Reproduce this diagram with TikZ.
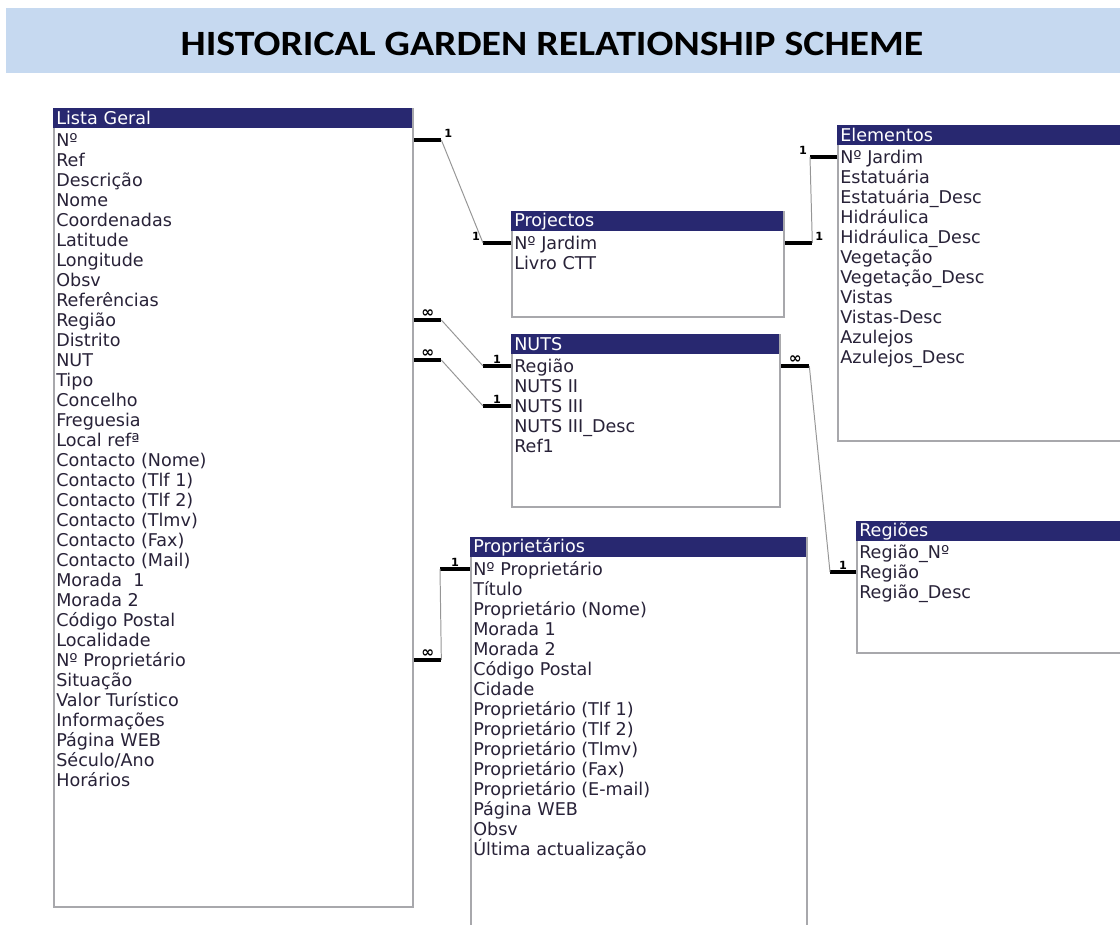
\documentclass[tikz,border=0pt]{standalone}
\usepackage{fontspec}
\setmainfont{DejaVu Sans}
\newfontfamily\titlefont{Carlito}
\usetikzlibrary{calc}

\definecolor{bandblue}{RGB}{198,217,240}
\definecolor{hdrnavy}{RGB}{40,40,112}
\definecolor{fldink}{RGB}{40,34,56}
\definecolor{boxgray}{RGB}{168,168,172}
\definecolor{linkgray}{RGB}{150,150,150}

\tikzset{
  tbl/.style={draw=boxgray, line width=1.6pt, fill=white, rectangle, anchor=north west, inner sep=0pt},
  hdr/.style={fill=hdrnavy, text=white, anchor=north west, align=left, inner xsep=0.075cm, inner ysep=0pt,
    minimum height=0.5cm, font=\fontsize{12.5}{13}\selectfont},
  fld/.style={anchor=west, inner sep=0pt, text=fldink, text height=11.8pt, text depth=2.5pt,
    font=\fontsize{12.5}{13}\selectfont},
  stub/.style={line width=2.2pt, black},
  link/.style={linkgray, line width=0.7pt},
  card/.style={inner sep=1pt, font=\fontsize{8}{8}\selectfont\bfseries},
  many/.style={inner sep=0.5pt, font=\fontsize{11}{11}\selectfont\bfseries}
}

\begin{document}
\begin{tikzpicture}[x=0.025cm, y=-0.025cm]
  \useasboundingbox (0,0) rectangle (1120,925);
  \clip (0,0) rectangle (1120,925);

  % title band
  \node (band) [fill=bandblue, anchor=north west, minimum width=27.9cm, minimum height=1.625cm, inner sep=0pt] at (6,8) {};
  \node (title) at (552,44) {\titlefont\bfseries\fontsize{25.3}{26}\selectfont\scalebox{1.12}[1]{HISTORICAL GARDEN RELATIONSHIP SCHEME}};

  % Lista Geral
  \node (lista) [tbl, minimum width=8.975cm, minimum height=19.95cm] at (53,108) {};
  \node (lista-h) [hdr, minimum width=8.975cm, text width=8.825cm] at (lista.north west) {Lista Geral};
  \foreach \f [count=\i] in {Nº, Ref, Descrição, Nome, Coordenadas, Latitude, Longitude, Obsv,
      Referências, Região, Distrito, NUT, Tipo, Concelho, Freguesia, Local refª,
      Contacto (Nome), Contacto (Tlf 1), Contacto (Tlf 2), Contacto (Tlmv), Contacto (Fax),
      Contacto (Mail), Morada~ 1, Morada 2, Código Postal, Localidade, Nº Proprietário,
      Situação, Valor Turístico, Informações, Página WEB, {Século/Ano}, Horários}
    \node (lista-\i) [fld] at (56,{140+20*(\i-1)}) {\f};

  % Projectos
  \node (proj) [tbl, minimum width=6.8cm, minimum height=2.625cm] at (511,211) {};
  \node (proj-h) [hdr, minimum width=6.8cm, text width=6.65cm] at (proj.north west) {Projectos};
  \foreach \f [count=\i] in {Nº Jardim, Livro CTT}
    \node (proj-\i) [fld] at (514,{243+20*(\i-1)}) {\f};

  % NUTS
  \node (nuts) [tbl, minimum width=6.7cm, minimum height=4.3cm] at (511,334) {};
  \node (nuts-h) [hdr, minimum width=6.7cm, text width=6.55cm] at (nuts.north west) {NUTS};
  \foreach \f [count=\i] in {Região, NUTS II, NUTS III, NUTS III\_Desc, Ref1}
    \node (nuts-\i) [fld] at (514,{366+20*(\i-1)}) {\f};

  % Elementos
  \node (elem) [tbl, minimum width=9.075cm, minimum height=7.875cm] at (837,125) {};
  \node (elem-h) [hdr, minimum width=9.075cm, text width=8.925cm] at (elem.north west) {Elementos};
  \foreach \f [count=\i] in {Nº Jardim, Estatuária, Estatuária\_Desc, Hidráulica, Hidráulica\_Desc,
      Vegetação, Vegetação\_Desc, Vistas, Vistas-Desc, Azulejos, Azulejos\_Desc}
    \node (elem-\i) [fld] at (840,{157+20*(\i-1)}) {\f};

  % Regiões
  \node (regi) [tbl, minimum width=8.6cm, minimum height=3.275cm] at (856,521) {};
  \node (regi-h) [hdr, minimum width=8.6cm, text width=8.45cm] at (regi.north west) {Regiões};
  \foreach \f [count=\i] in {Região\_Nº, Região, Região\_Desc}
    \node (regi-\i) [fld] at (859,{552+20*(\i-1)}) {\f};

  % Proprietários
  \node (prop) [tbl, minimum width=8.4cm, minimum height=10.325cm] at (470,537) {};
  \node (prop-h) [hdr, minimum width=8.4cm, text width=8.25cm] at (prop.north west) {Proprietários};
  \foreach \f [count=\i] in {Nº Proprietário, Título, Proprietário (Nome), Morada 1, Morada 2,
      Código Postal, Cidade, Proprietário (Tlf 1), Proprietário (Tlf 2), Proprietário (Tlmv),
      Proprietário (Fax), Proprietário (E-mail), Página WEB, Obsv, Última actualização}
    \node (prop-\i) [fld] at (473,{569+20*(\i-1)}) {\f};

  % relationships
  \draw[stub] (lista.east |- lista-1) -- ++(27,0) coordinate (lp1) node[card, above right] {1};
  \draw[stub] (proj.west |- proj-1) -- ++(-28,0) coordinate (lp2) node[card, above left] {1};
  \draw[link] (lp1) -- (lp2);

  \draw[stub] (proj.east |- proj-1) -- ++(27,0) coordinate (pe1) node[card, above right] {1};
  \draw[stub] (elem.west |- elem-1) -- ++(-27,0) coordinate (pe2) node[card, above left] {1};
  \draw[link] (pe1) -- (pe2);

  \draw[stub] (lista.east |- lista-10) -- ++(27,0) coordinate (ln1) node[many, midway, above] {∞};
  \draw[stub] (nuts.west |- nuts-1) -- ++(-28,0) coordinate (ln2) node[card, midway, above] {1};
  \draw[link] (ln1) -- (ln2);

  \draw[stub] (lista.east |- lista-12) -- ++(27,0) coordinate (lt1) node[many, midway, above] {∞};
  \draw[stub] (nuts.west |- nuts-3) -- ++(-28,0) coordinate (lt2) node[card, midway, above] {1};
  \draw[link] (lt1) -- (lt2);

  \draw[stub] (nuts.east |- nuts-1) -- ++(28,0) coordinate (nr1) node[many, midway, above] {∞};
  \draw[stub] (regi.west |- regi-2) -- ++(-26,0) coordinate (nr2) node[card, midway, above] {1};
  \draw[link] (nr1) -- (nr2);

  \draw[stub] (lista.east |- lista-27) -- ++(27,0) coordinate (lo1) node[many, midway, above] {∞};
  \draw[stub] (prop.west |- prop-1) -- ++(-30,0) coordinate (lo2) node[card, midway, above] {1};
  \draw[link] (lo1) -- (lo2);
\end{tikzpicture}
\end{document}
